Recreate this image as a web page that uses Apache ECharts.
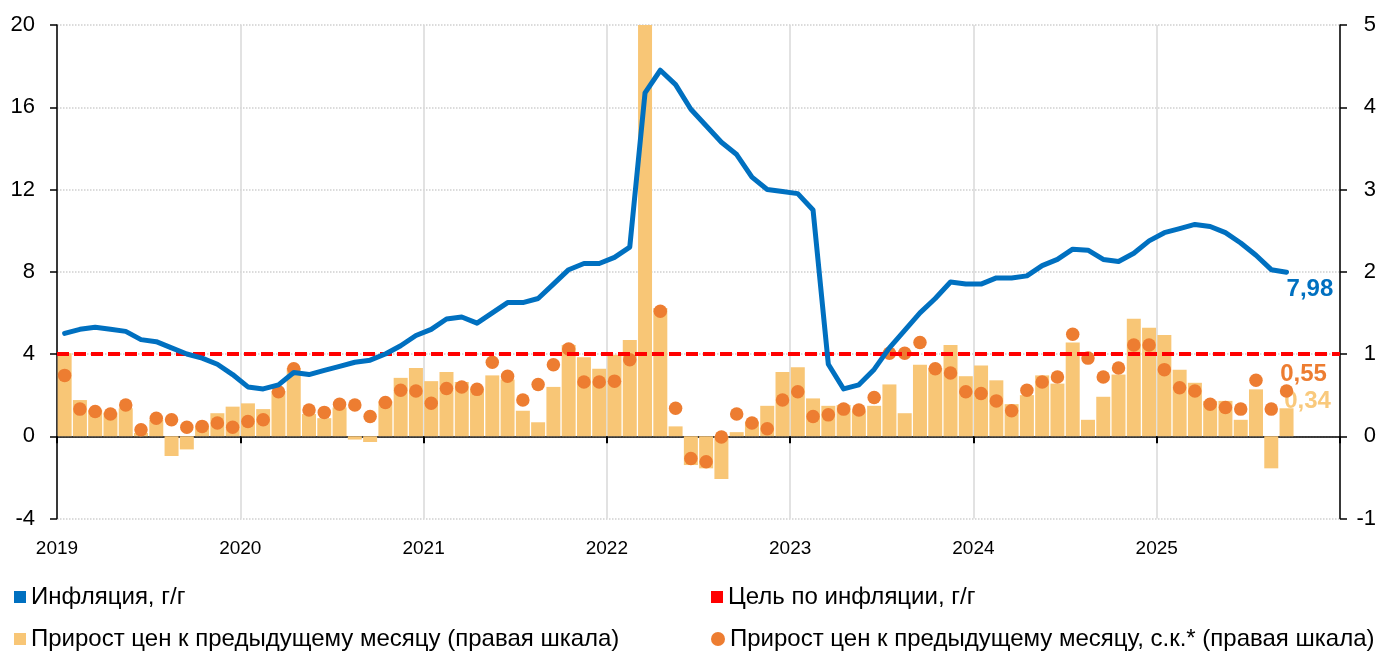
<!DOCTYPE html>
<html><head><meta charset="utf-8">
<script src="https://cdn.jsdelivr.net/npm/echarts@6/dist/echarts.min.js"></script>
<style>html,body{margin:0;padding:0;background:#fff}#c{width:1384px;height:653px}</style>
</head><body><div id="c"></div>
<script>
// Monthly data, Jan 2019 .. Sep 2025
const yearLabels = ['2019', '2020', '2021', '2022', '2023', '2024', '2025'];
const monthsPerYear = 12;
const axisMonths = 84;

const inflation = [
  5.0, 5.2, 5.3, 5.2, 5.1, 4.7, 4.6, 4.3, 4.0, 3.8, 3.5, 3.0,
  2.4, 2.3, 2.5, 3.1, 3.0, 3.2, 3.4, 3.6, 3.7, 4.0, 4.4, 4.9,
  5.2, 5.7, 5.8, 5.5, 6.0, 6.5, 6.5, 6.7, 7.4, 8.1, 8.4, 8.4,
  8.7, 9.2, 16.7, 17.8, 17.1, 15.9, 15.1, 14.3, 13.7, 12.6, 12.0, 11.9,
  11.8, 11.0, 3.5, 2.3, 2.5, 3.25, 4.3, 5.15, 6.0, 6.7, 7.5, 7.4,
  7.4, 7.7, 7.7, 7.8, 8.3, 8.6, 9.1, 9.05, 8.6, 8.5, 8.9, 9.5,
  9.9, 10.1, 10.3, 10.2, 9.9, 9.4, 8.8, 8.1, 7.98
];
const inflationTarget = 4;
const momRaw = [
  1.01, 0.44, 0.32, 0.29, 0.34, 0.04, 0.20, -0.24, -0.16, 0.13, 0.28, 0.36,
  0.40, 0.33, 0.55, 0.83, 0.27, 0.22, 0.35, -0.04, -0.07, 0.43, 0.71, 0.83,
  0.67, 0.78, 0.66, 0.58, 0.74, 0.69, 0.31, 0.17, 0.60, 1.11, 0.96, 0.82,
  0.99, 1.17, 7.61, 1.56, 0.12, -0.35, -0.39, -0.52, 0.05, 0.18, 0.37, 0.78,
  0.84, 0.46, 0.37, 0.38, 0.31, 0.37, 0.63, 0.28, 0.87, 0.83, 1.11, 0.73,
  0.86, 0.68, 0.39, 0.50, 0.74, 0.64, 1.14, 0.20, 0.48, 0.75, 1.43, 1.32,
  1.23, 0.81, 0.65, 0.43, 0.43, 0.20, 0.57, -0.39, 0.34
];
const momSA = [
  0.74, 0.33, 0.30, 0.27, 0.38, 0.08, 0.22, 0.20, 0.11, 0.12, 0.16, 0.11,
  0.18, 0.20, 0.54, 0.82, 0.32, 0.29, 0.39, 0.38, 0.24, 0.41, 0.56, 0.55,
  0.40, 0.58, 0.60, 0.57, 0.90, 0.73, 0.44, 0.63, 0.87, 1.06, 0.66, 0.66,
  0.67, 0.93, 7.40, 1.52, 0.34, -0.27, -0.31, -0.01, 0.27, 0.16, 0.09, 0.44,
  0.54, 0.24, 0.26, 0.33, 0.32, 0.47, 1.01, 1.01, 1.14, 0.82, 0.77, 0.54,
  0.52, 0.43, 0.31, 0.56, 0.66, 0.72, 1.24, 0.95, 0.72, 0.83, 1.11, 1.11,
  0.81, 0.59, 0.55, 0.39, 0.35, 0.33, 0.68, 0.33, 0.55
];
const names = {
  infl: 'Инфляция, г/г',
  target: 'Цель по инфляции, г/г',
  raw: 'Прирост цен к предыдущему месяцу (правая шкала)',
  sa: 'Прирост цен к предыдущему месяцу, с.к.* (правая шкала)'
};

const FONT = '"Liberation Sans", Arial, sans-serif';
const fmt = v => v.toFixed(2).replace('.', ',');
// month index -> position at middle of the month on the time axis
const pts = arr => arr.map((v, i) => [i + 0.5, v]);
const lastIdx = momRaw.length - 1;

const rawData = pts(momRaw);
rawData[lastIdx] = {
  value: rawData[lastIdx],
  label: { show: true, position: 'top', offset: [21, 10], formatter: p => fmt(p.value[1]),
    color: '#F9C97C', fontWeight: 'bold', fontSize: 24, fontFamily: FONT }
};
const saData = pts(momSA);
saData[lastIdx] = {
  value: saData[lastIdx],
  label: { show: true, position: 'top', offset: [17, 7], formatter: p => fmt(p.value[1]),
    color: '#ED7D31', fontWeight: 'bold', fontSize: 24, fontFamily: FONT }
};

const chart = echarts.init(document.getElementById('c'), null, { renderer: 'canvas' });
const legendText = { fontSize: 24, color: '#000', fontFamily: FONT, lineHeight: 24 };
const legendItem = (name, icon, left, top, size) => ({
  left: left, top: top, orient: 'horizontal', padding: 0, itemWidth: size, itemHeight: size,
  textStyle: legendText, selectedMode: false, data: [{ name: name, icon: icon }]
});
chart.setOption({
  animation: false,
  backgroundColor: '#fff',
  textStyle: { fontFamily: FONT },
  grid: { left: 57, right: 44, top: 25, bottom: 134.5, containLabel: false },
  legend: [
    legendItem(names.infl, 'rect', 14, 585, 12),
    legendItem(names.raw, 'rect', 14, 627, 12),
    legendItem(names.target, 'rect', 711, 585, 12),
    legendItem(names.sa, 'circle', 711, 627, 14)
  ],
  xAxis: [
    { type: 'value', min: 0, max: axisMonths, interval: monthsPerYear, position: 'bottom',
      axisLine: { show: false, onZero: false }, axisTick: { show: false },
      axisLabel: { fontSize: 19, color: '#000', margin: 21, fontFamily: FONT,
        formatter: v => yearLabels[v / monthsPerYear] || '' },
      splitLine: { show: true, lineStyle: { color: '#D9D9D9', width: 1.5 } } },
    { type: 'value', min: 0, max: axisMonths, interval: monthsPerYear, position: 'bottom',
      axisLine: { show: true, onZero: true, onZeroAxisIndex: 0, lineStyle: { color: '#000', width: 1.5 } },
      axisTick: { show: true, length: 7, lineStyle: { color: '#000', width: 2 } },
      axisLabel: { show: false }, splitLine: { show: false } }
  ],
  yAxis: [
    { type: 'value', min: -4, max: 20, interval: 4, position: 'left',
      axisLine: { show: true, onZero: false, lineStyle: { color: '#000', width: 1.5 } },
      axisTick: { show: true, length: 7, lineStyle: { color: '#000', width: 1.5 } },
      axisLabel: { fontSize: 22, color: '#000', margin: 22, fontFamily: FONT },
      splitLine: { show: true, lineStyle: { color: '#D0D0D0', width: 1.5, type: 'dotted' } } },
    { type: 'value', min: -1, max: 5, interval: 1, position: 'right',
      axisLine: { show: true, onZero: false, lineStyle: { color: '#000', width: 1.5 } },
      axisTick: { show: true, length: 7, lineStyle: { color: '#000', width: 1.5 } },
      axisLabel: { fontSize: 22, color: '#000', margin: 36, align: 'right', fontFamily: FONT },
      splitLine: { show: false } }
  ],
  series: [
    { name: names.raw, type: 'bar', xAxisIndex: 0, yAxisIndex: 1, barWidth: 14, clip: true,
      itemStyle: { color: '#F8C676' }, data: rawData, z: 2 },
    { name: names.sa, type: 'scatter', xAxisIndex: 0, yAxisIndex: 1, symbolSize: 13.5, clip: true,
      itemStyle: { color: '#ED7D31', opacity: 1 }, data: saData, z: 3 },
    { name: names.target, type: 'line', xAxisIndex: 0, yAxisIndex: 0, data: [], z: 4,
      itemStyle: { color: '#FF0000' }, lineStyle: { color: '#FF0000' },
      markLine: { silent: true, symbol: 'none', label: { show: false },
        lineStyle: { color: '#FF0000', width: 4, type: [12, 5] },
        data: [{ yAxis: inflationTarget }] } },
    { name: names.infl, type: 'line', xAxisIndex: 0, yAxisIndex: 0, showSymbol: false, z: 5,
      itemStyle: { color: '#0070C0' },
      lineStyle: { color: '#0070C0', width: 5, cap: 'round', join: 'round' },
      endLabel: { show: true, formatter: p => fmt(p.value[1]), offset: [-8, 17],
        color: '#0070C0', fontWeight: 'bold', fontSize: 24, fontFamily: FONT },
      data: pts(inflation) }
  ]
});
</script>
</body></html>
